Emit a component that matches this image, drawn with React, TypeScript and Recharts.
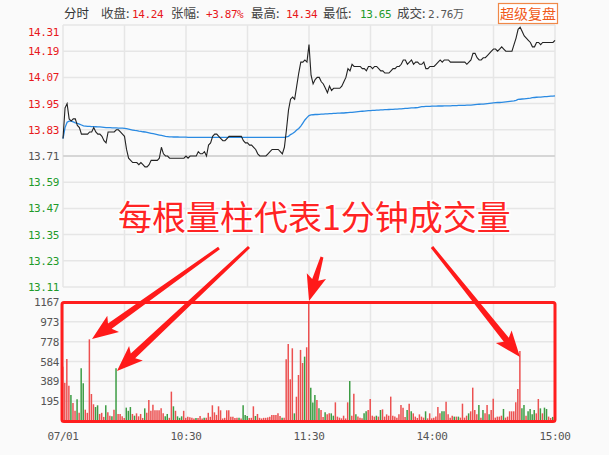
import React from "react";
import {
  Bar,
  BarChart,
  CartesianGrid,
  Line,
  LineChart,
  ReferenceLine,
  XAxis,
  YAxis,
} from "recharts";

// previous close, 0.00% line
const PREV_CLOSE = 13.71;

// one value per minute, 09:30 .. 11:30 / 13:01 .. 15:00
const prices = [
  13.79, 13.93, 13.95, 13.88, 13.87, 13.88, 13.88, 13.85, 13.84, 13.81, 13.81,
  13.81, 13.81, 13.82, 13.82, 13.84, 13.82, 13.81, 13.81, 13.8, 13.78,
  13.77, 13.82, 13.82, 13.82, 13.82, 13.83, 13.83, 13.82, 13.81, 13.8,
  13.74, 13.7, 13.69, 13.68, 13.68, 13.68, 13.67, 13.68, 13.67, 13.66,
  13.66, 13.67, 13.69, 13.69, 13.69, 13.69, 13.7, 13.75, 13.72, 13.71,
  13.71, 13.7, 13.7, 13.7, 13.7, 13.7, 13.7, 13.7, 13.7, 13.71,
  13.7, 13.71, 13.71, 13.71, 13.71, 13.73, 13.72, 13.72, 13.73, 13.71,
  13.76, 13.77, 13.8, 13.81, 13.81, 13.8, 13.79, 13.78, 13.78, 13.79,
  13.8, 13.8, 13.8, 13.8, 13.8, 13.8, 13.8, 13.78, 13.77, 13.77,
  13.76, 13.76, 13.75, 13.74, 13.72, 13.71, 13.71, 13.71, 13.71, 13.72,
  13.73, 13.74, 13.74, 13.74, 13.74, 13.73, 13.72, 13.75, 13.83, 13.92,
  13.97, 13.98, 13.97, 14.03, 14.09, 14.14, 14.14, 14.15, 14.14, 14.22,
  14.08, 14.04, 14.06, 14.07, 14.07, 14.05, 14.04, 14.02, 14.0, 14.03,
  14.01, 14.02, 14.02, 14.02, 14.02, 14.03, 14.05, 14.07, 14.11, 14.1,
  14.13, 14.12, 14.12, 14.12, 14.12, 14.11, 14.11, 14.1, 14.12, 14.12,
  14.11, 14.12, 14.12, 14.11, 14.1, 14.1, 14.09, 14.09, 14.09, 14.1,
  14.11, 14.11, 14.12, 14.12, 14.13, 14.15, 14.15, 14.13, 14.14, 14.15,
  14.13, 14.14, 14.14, 14.13, 14.13, 14.14, 14.11, 14.11, 14.12, 14.12,
  14.12, 14.13, 14.14, 14.15, 14.14, 14.15, 14.15, 14.15, 14.14, 14.14,
  14.14, 14.14, 14.14, 14.14, 14.14, 14.14, 14.13, 14.14, 14.15, 14.18,
  14.18, 14.16, 14.15, 14.15, 14.16, 14.16, 14.17, 14.18, 14.19, 14.2,
  14.2, 14.19, 14.2, 14.21, 14.2, 14.19, 14.19, 14.19, 14.19, 14.22,
  14.25, 14.29, 14.3, 14.28, 14.26, 14.25, 14.24, 14.23, 14.21, 14.21,
  14.23, 14.23, 14.22, 14.23, 14.23, 14.23, 14.23, 14.23, 14.23, 14.24,
];

const avgPrices = [
  13.79, 13.84, 13.865, 13.87, 13.87, 13.866, 13.862, 13.859, 13.856, 13.852, 13.848,
  13.847, 13.846, 13.846, 13.845, 13.845, 13.844, 13.843, 13.843, 13.842, 13.841,
  13.84, 13.84, 13.84, 13.839, 13.839, 13.839, 13.838, 13.838, 13.838, 13.837,
  13.835, 13.833, 13.831, 13.829, 13.827, 13.826, 13.824, 13.823, 13.821, 13.82,
  13.818, 13.816, 13.814, 13.812, 13.81, 13.808, 13.806, 13.804, 13.802, 13.8,
  13.799, 13.798, 13.798, 13.797, 13.797, 13.797, 13.796, 13.796, 13.796, 13.796,
  13.795, 13.795, 13.795, 13.795, 13.795, 13.795, 13.795, 13.795, 13.795, 13.795,
  13.795, 13.795, 13.795, 13.795, 13.795, 13.795, 13.795, 13.795, 13.795, 13.795,
  13.795, 13.795, 13.795, 13.795, 13.795, 13.795, 13.795, 13.795, 13.795, 13.795,
  13.795, 13.795, 13.795, 13.795, 13.795, 13.795, 13.795, 13.795, 13.795, 13.795,
  13.795, 13.795, 13.795, 13.795, 13.795, 13.795, 13.795, 13.795, 13.798, 13.8,
  13.808, 13.813, 13.82, 13.829, 13.836, 13.847, 13.861, 13.875, 13.886, 13.895,
  13.898, 13.899, 13.9, 13.9, 13.901, 13.902, 13.902, 13.903, 13.903, 13.904,
  13.904, 13.905, 13.905, 13.906, 13.906, 13.907, 13.907, 13.908, 13.909, 13.91,
  13.91, 13.911, 13.912, 13.913, 13.914, 13.915, 13.916, 13.917, 13.918, 13.918,
  13.919, 13.919, 13.92, 13.92, 13.921, 13.921, 13.922, 13.922, 13.923, 13.924,
  13.924, 13.925, 13.925, 13.926, 13.926, 13.927, 13.928, 13.928, 13.929, 13.93,
  13.93, 13.931, 13.932, 13.934, 13.936, 13.936, 13.937, 13.937, 13.937, 13.938,
  13.938, 13.938, 13.939, 13.939, 13.939, 13.94, 13.94, 13.94, 13.94, 13.941,
  13.941, 13.941, 13.942, 13.942, 13.942, 13.942, 13.943, 13.943, 13.943, 13.944,
  13.945, 13.946, 13.947, 13.948, 13.948, 13.949, 13.95, 13.951, 13.952, 13.953,
  13.954, 13.955, 13.955, 13.956, 13.957, 13.958, 13.959, 13.96, 13.961, 13.962,
  13.965, 13.969, 13.97, 13.971, 13.972, 13.973, 13.974, 13.975, 13.977, 13.978,
  13.979, 13.98, 13.98, 13.981, 13.982, 13.982, 13.983, 13.984, 13.984, 13.985,
];

// volume per minute (hands)
const volumes = [
  533, 376, 608, 346, 255, 177, 100, 213, 80, 517, 370,
  111, 80, 801, 265, 164, 137, 154, 69, 80, 40,
  154, 85, 52, 46, 111, 517, 69, 69, 46, 30,
  131, 100, 137, 69, 52, 75, 46, 69, 30, 124,
  80, 206, 100, 160, 105, 105, 105, 124, 75, 46,
  69, 31, 288, 144, 100, 46, 31, 46, 100, 31,
  41, 38, 31, 25, 30, 30, 49, 25, 31, 31,
  80, 41, 154, 85, 60, 144, 105, 25, 31, 105,
  105, 41, 41, 30, 31, 31, 25, 154, 59, 49,
  30, 31, 144, 49, 69, 31, 25, 31, 31, 35,
  41, 59, 59, 59, 75, 49, 31, 31, 605, 755,
  409, 713, 75, 238, 451, 697, 569, 631, 723, 1167,
  327, 182, 255, 206, 124, 108, 40, 85, 65, 75,
  75, 52, 183, 43, 33, 26, 52, 25, 183, 392,
  52, 268, 65, 43, 33, 26, 75, 95, 108, 216,
  52, 43, 52, 43, 108, 114, 43, 65, 52, 239,
  52, 43, 33, 65, 157, 131, 40, 108, 170, 95,
  75, 43, 30, 65, 43, 33, 95, 26, 75, 26,
  33, 43, 137, 75, 95, 95, 190, 65, 33, 52,
  43, 43, 43, 33, 170, 33, 52, 75, 95, 327,
  108, 65, 157, 33, 108, 75, 157, 65, 108, 219,
  33, 43, 43, 52, 118, 33, 43, 95, 95, 95,
  183, 314, 687, 124, 157, 52, 95, 118, 65, 108,
  75, 216, 124, 75, 131, 118, 43, 30, 40, 118,
];

// 1 = up (red), -1 = down (green)
const volDirs = [
  1, 1, 1, 1, -1, 1, 1, -1, 1, -1, -1,
  1, 1, 1, 1, 1, -1, -1, 1, 1, 1,
  -1, 1, 1, -1, 1, -1, 1, 1, 1, 1,
  -1, -1, -1, 1, -1, 1, 1, 1, 1, -1,
  1, 1, 1, 1, 1, 1, 1, 1, 1, -1,
  -1, 1, 1, -1, 1, -1, -1, -1, 1, 1,
  1, 1, 1, 1, -1, 1, 1, 1, -1, 1,
  1, 1, 1, 1, 1, 1, 1, 1, 1, 1,
  1, 1, 1, 1, 1, -1, 1, -1, -1, -1,
  1, 1, 1, -1, 1, 1, 1, 1, 1, 1,
  1, 1, 1, 1, 1, 1, -1, 1, 1, 1,
  1, 1, -1, 1, 1, 1, 1, -1, 1, 1,
  -1, -1, -1, 1, -1, 1, 1, -1, 1, 1,
  -1, -1, 1, 1, 1, 1, 1, 1, 1, -1,
  1, 1, -1, 1, 1, 1, -1, -1, 1, 1,
  1, 1, -1, 1, -1, 1, 1, 1, 1, 1,
  1, 1, 1, 1, 1, 1, 1, -1, 1, -1,
  1, 1, 1, 1, 1, 1, -1, 1, 1, 1,
  1, 1, 1, 1, -1, -1, 1, 1, 1, 1,
  -1, 1, -1, 1, 1, 1, 1, -1, 1, 1,
  1, 1, -1, 1, -1, 1, 1, -1, 1, 1,
  1, 1, 1, 1, -1, 1, 1, 1, 1, 1,
  1, 1, 1, -1, -1, 1, -1, -1, -1, -1,
  1, 1, -1, 1, -1, -1, 1, 1, -1, -1,
];

const priceTicks = [13.11, 13.23, 13.35, 13.47, 13.59, 13.71, 13.83, 13.95, 14.07, 14.19, 14.31];
const volTicks = [0, 194.5, 389, 583.5, 778, 972.5, 1167];
const volTickLabels = ["", "195", "389", "584", "778", "973", "1167"];
const timeTicks = [0, 30, 60, 90, 120, 150, 180, 210, 240];
const timeTickLabels = ["07/01", "", "10:30", "", "11:30", "", "14:00", "", "15:00"];

const headerLabels = ["收盘:", "张幅:", "最高:", "最低:", "成交:"];
const headerValues = ["14.24", "+3.87%", "14.34", "13.65", "2.76万"];

const noteText = "每根量柱代表1分钟成交量";

const RED = "#e8181b";
const GREEN = "#1e9a2a";
const GRAY = "#555";
const GRID = "#e6e6e6";

const tickFont = {
  fontFamily: "'DejaVu Sans Mono', monospace",
  fontSize: 11,
  letterSpacing: -0.4,
};

const priceData = prices.map((p, i) => ({ i, price: p, avg: avgPrices[i] }));
const volData = volumes.map((v, i) => ({
  i,
  up: volDirs[i] > 0 ? v : 0,
  down: volDirs[i] < 0 ? v : 0,
}));

function priceColor(v: number) {
  if (v > PREV_CLOSE + 0.001) return RED;
  if (v < PREV_CLOSE - 0.001) return GREEN;
  return GRAY;
}

const LeftPriceTick = (props: any) => {
  const { y, payload } = props;
  const v = payload.value as number;
  const shift = v > 14.3 ? 7 : 0;
  return (
    <text x={59} y={y + shift} dy={4} textAnchor="end" fill={priceColor(v)} style={tickFont}>
      {v.toFixed(2)}
    </text>
  );
};

const RightPctTick = (props: any) => {
  const { y, payload } = props;
  const v = payload.value as number;
  const shift = v > 14.3 ? 7 : 0;
  const pct = (Math.abs(v - PREV_CLOSE) / PREV_CLOSE) * 100;
  return (
    <text x={558} y={y + shift} dy={4} textAnchor="start" fill={priceColor(v)} style={tickFont}>
      {pct.toFixed(2) + "%"}
    </text>
  );
};

const VolTick = (props: any) => {
  const { y, index } = props;
  return (
    <text x={59} y={y} dy={4} textAnchor="end" fill={GRAY} style={tickFont}>
      {volTickLabels[index]}
    </text>
  );
};

const TimeTick = (props: any) => {
  const { x, index } = props;
  return (
    <text x={x} y={440} textAnchor="middle" fill={GRAY} style={tickFont}>
      {timeTickLabels[index]}
    </text>
  );
};

function arrowPoints(x1: number, y1: number, x2: number, y2: number) {
  const dx = x2 - x1;
  const dy = y2 - y1;
  const len = Math.hypot(dx, dy);
  const ux = dx / len;
  const uy = dy / len;
  const nx = -uy;
  const ny = ux;
  const headLen = 22;
  const bx = x2 - ux * headLen;
  const by = y2 - uy * headLen;
  const pts = [
    [x1 + nx * 1.5, y1 + ny * 1.5],
    [bx + nx * 3.2, by + ny * 3.2],
    [bx - ux * 4 + nx * 10, by - uy * 4 + ny * 10],
    [x2, y2],
    [bx - ux * 4 - nx * 10, by - uy * 4 - ny * 10],
    [bx - nx * 3.2, by - ny * 3.2],
    [x1 - nx * 1.5, y1 - ny * 1.5],
  ];
  return pts.map((p) => p[0].toFixed(1) + "," + p[1].toFixed(1)).join(" ");
}

const arrows = [
  [219, 248, 92, 339],
  [249, 247, 117, 371],
  [322, 257, 309, 301],
  [432, 247, 520, 357],
];

const headerX = [101, 171, 251, 323, 397];
const valueX = [132, 206, 286, 360, 428];
const valueColors = [RED, RED, RED, GREEN, GRAY];

export default function App() {
  return (
    <div
      style={{
        position: "absolute",
        left: 0,
        top: 0,
        width: 609,
        height: 455,
        background: "#fafafa",
        overflow: "hidden",
      }}
    >
      <div style={{ position: "absolute", left: 0, top: 0 }}>
        <BarChart
          width={609}
          height={455}
          data={volData}
          margin={{ top: 302, right: 54, bottom: 0, left: 0 }}
        >
          <CartesianGrid stroke={GRID} strokeWidth={1.5} />
          <XAxis
            dataKey="i"
            type="number"
            domain={[0, 240]}
            ticks={timeTicks}
            interval={0}
            height={34}
            axisLine={false}
            tickLine={false}
            tick={<TimeTick />}
          />
          <YAxis
            domain={[0, 1167]}
            ticks={volTicks}
            interval={0}
            width={63}
            axisLine={false}
            tickLine={false}
            tick={<VolTick />}
          />
          <Bar dataKey="up" stackId="v" barSize={1.5} fill="#ec5050" isAnimationActive={false} />
          <Bar dataKey="down" stackId="v" barSize={1.5} fill="#3c9c44" isAnimationActive={false} />
        </BarChart>
      </div>

      <div style={{ position: "absolute", left: 0, top: 0 }}>
        <LineChart
          width={609}
          height={455}
          data={priceData}
          margin={{ top: 25, right: 0, bottom: 168, left: 0 }}
        >
          <CartesianGrid yAxisId="l" stroke={GRID} strokeWidth={1.5} />
          <XAxis dataKey="i" type="number" domain={[0, 240]} ticks={timeTicks} interval={0} hide />
          <YAxis
            yAxisId="l"
            domain={[13.11, 14.31]}
            ticks={priceTicks}
            interval={0}
            width={63}
            axisLine={false}
            tickLine={false}
            tick={<LeftPriceTick />}
          />
          <YAxis
            yAxisId="r"
            orientation="right"
            domain={[13.11, 14.31]}
            ticks={priceTicks}
            interval={0}
            width={54}
            axisLine={false}
            tickLine={false}
            tick={<RightPctTick />}
          />
          <ReferenceLine yAxisId="l" y={PREV_CLOSE} stroke="#d6d6d6" strokeWidth={2} />
          <Line
            yAxisId="l"
            dataKey="avg"
            stroke="#2a8ae2"
            strokeWidth={1.3}
            dot={false}
            isAnimationActive={false}
          />
          <Line
            yAxisId="l"
            dataKey="price"
            stroke="#222"
            strokeWidth={1.1}
            dot={false}
            isAnimationActive={false}
          />
        </LineChart>
      </div>

      <svg
        width={609}
        height={455}
        style={{ position: "absolute", left: 0, top: 0, pointerEvents: "none" }}
      >
        <text
          x={64}
          y={18}
          fill="#333"
          style={{ fontFamily: "'Noto Sans CJK SC', sans-serif", fontSize: 12.5 }}
        >
          分时
        </text>
        {headerLabels.map((t, k) => (
          <text
            key={t}
            x={headerX[k]}
            y={18}
            fill="#444"
            style={{ fontFamily: "'Noto Sans CJK SC', sans-serif", fontSize: 12.5 }}
          >
            {t}
          </text>
        ))}
        {headerValues.map((t, k) => (
          <text
            key={t}
            x={valueX[k]}
            y={18}
            fill={valueColors[k]}
            style={{ ...tickFont, fontFamily: "'DejaVu Sans Mono', 'Noto Sans CJK SC', monospace" }}
          >
            {t}
          </text>
        ))}
        <rect x={498.5} y={3.5} width={59} height={20} fill="#fff" stroke="#f08848" strokeWidth={1.2} />
        <text
          x={528}
          y={19}
          textAnchor="middle"
          fill="#f05a1a"
          style={{ fontFamily: "'Noto Sans CJK SC', sans-serif", fontSize: 14 }}
        >
          超级复盘
        </text>

        <rect
          x={62}
          y={302.5}
          width={493}
          height={119}
          rx={2}
          fill="none"
          stroke="#ff1e1e"
          strokeWidth={3}
        />

        <text
          x={118}
          y={230}
          fill="#ff2424"
          stroke="#ffffff"
          strokeWidth={3}
          paintOrder="stroke"
          style={{ fontFamily: "'Noto Sans CJK SC', sans-serif", fontSize: 34 }}
        >
          {noteText}
        </text>

        {arrows.map((a, k) => (
          <polygon key={k} points={arrowPoints(a[0], a[1], a[2], a[3])} fill="#ff1a1a" />
        ))}
      </svg>
    </div>
  );
}
